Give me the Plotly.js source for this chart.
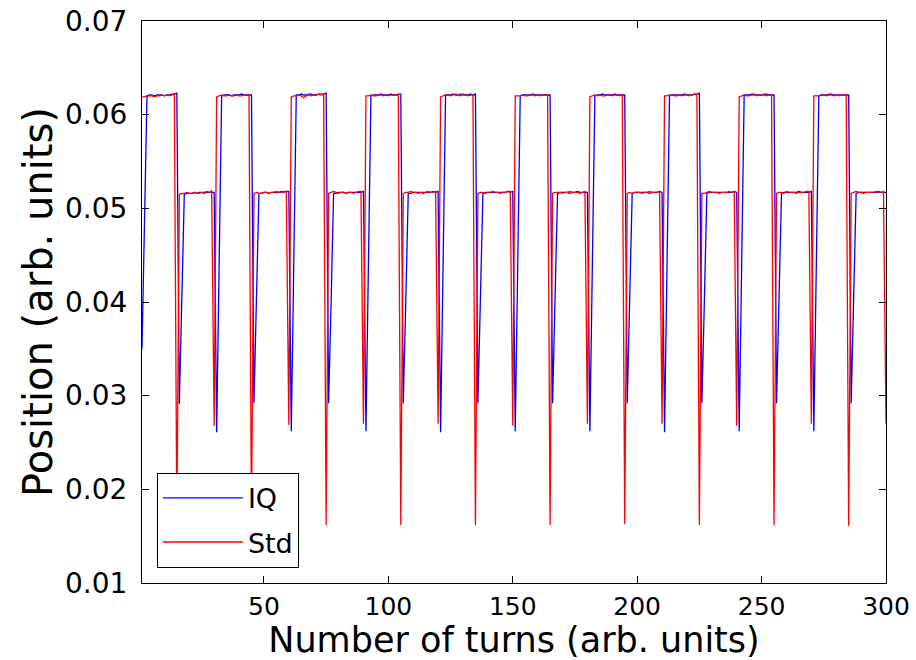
<!DOCTYPE html>
<html>
<head>
<meta charset="utf-8">
<script src="https://cdn.plot.ly/plotly-3.0.1.min.js"></script>
<style>html,body{margin:0;padding:0;background:#fff;}#chart{width:916px;height:660px;}</style>
</head>
<body>
<div id="chart"></div>
<script>
// Number of turns (1..300)
const turns = Array.from({length: 300}, (_, i) => i + 1);

// IQ series (blue), one line per 30-turn cycle
const iqValues = [
  .0350,.0490, .0620,.0621,.0621,.0620,.0621,.0621,.0621,.0620,.0621,.0621,.0622,.0622,.0623, .0291,.0400, .0515,.0516,.0516,.0516,.0517,.0516,.0517,.0517,.0516,.0517,.0517,.0517,.0517,
  .0261,.0440, .0620,.0621,.0621,.0621,.0620,.0621,.0621,.0621,.0622,.0621,.0621,.0621,.0621, .0292,.0400, .0516,.0516,.0517,.0517,.0516,.0517,.0517,.0517,.0517,.0518,.0517,.0518,.0518,
  .0262,.0440, .0621,.0621,.0622,.0621,.0621,.0622,.0622,.0621,.0621,.0622,.0622,.0622,.0623, .0292,.0400, .0516,.0516,.0517,.0517,.0517,.0516,.0517,.0517,.0517,.0517,.0517,.0517,.0518,
  .0262,.0440, .0620,.0621,.0621,.0621,.0622,.0621,.0621,.0621,.0622,.0621,.0621,.0622,.0622, .0292,.0400, .0516,.0516,.0517,.0517,.0517,.0517,.0516,.0517,.0517,.0517,.0518,.0517,.0518,
  .0261,.0440, .0621,.0621,.0621,.0622,.0621,.0621,.0622,.0622,.0621,.0621,.0622,.0621,.0622, .0292,.0400, .0516,.0517,.0517,.0517,.0517,.0517,.0517,.0517,.0517,.0517,.0518,.0517,.0518,
  .0262,.0440, .0620,.0621,.0621,.0621,.0621,.0622,.0621,.0621,.0621,.0621,.0621,.0621,.0621, .0292,.0400, .0516,.0517,.0517,.0517,.0517,.0516,.0517,.0517,.0518,.0517,.0517,.0517,.0517,
  .0262,.0440, .0620,.0621,.0621,.0622,.0621,.0621,.0621,.0621,.0622,.0621,.0621,.0621,.0621, .0292,.0400, .0516,.0517,.0517,.0517,.0517,.0517,.0517,.0516,.0517,.0517,.0517,.0518,.0517,
  .0261,.0440, .0620,.0621,.0621,.0621,.0621,.0621,.0622,.0621,.0621,.0621,.0622,.0622,.0623, .0292,.0400, .0516,.0517,.0517,.0517,.0517,.0517,.0517,.0517,.0517,.0517,.0517,.0518,.0517,
  .0262,.0440, .0621,.0621,.0621,.0622,.0622,.0621,.0621,.0621,.0622,.0622,.0621,.0621,.0621, .0292,.0400, .0516,.0517,.0517,.0517,.0517,.0517,.0517,.0518,.0517,.0517,.0517,.0517,.0518,
  .0262,.0440, .0620,.0621,.0621,.0621,.0622,.0622,.0621,.0621,.0621,.0621,.0621,.0621,.0621, .0292,.0400, .0516,.0517,.0517,.0517,.0517,.0517,.0517,.0517,.0517,.0518,.0517,.0517,.0517
];

// Std series (red), one line per 30-turn cycle
const stdValues = [
  .0619,.0619,.0620,.0620,.0620,.0619,.0620,.0620,.0621,.0620,.0621,.0620,.0621,.0622, .0165, .0515,.0516,.0516,.0517,.0516,.0516,.0517,.0516,.0516,.0517,.0517,.0518,.0517,.0519, .0268,
  .0619,.0620,.0621,.0620,.0620,.0621,.0620,.0620,.0621,.0620,.0620,.0621,.0621,.0621, .0165, .0516,.0517,.0516,.0516,.0517,.0517,.0516,.0517,.0517,.0518,.0517,.0517,.0518,.0518, .0269,
  .0619,.0620,.0620,.0621,.0620,.0618,.0620,.0621,.0620,.0621,.0621,.0622,.0621,.0622, .0162, .0516,.0517,.0518,.0517,.0516,.0517,.0517,.0516,.0517,.0517,.0516,.0517,.0518,.0518, .0270,
  .0620,.0620,.0621,.0620,.0620,.0621,.0621,.0620,.0621,.0620,.0621,.0621,.0621,.0621, .0162, .0516,.0517,.0517,.0518,.0517,.0517,.0516,.0517,.0517,.0517,.0518,.0517,.0517,.0518, .0270,
  .0619,.0620,.0621,.0621,.0620,.0621,.0622,.0621,.0620,.0621,.0621,.0620,.0621,.0621, .0162, .0516,.0517,.0517,.0516,.0517,.0517,.0518,.0517,.0517,.0516,.0517,.0517,.0518,.0518, .0268,
  .0620,.0620,.0620,.0621,.0620,.0620,.0621,.0621,.0620,.0621,.0620,.0621,.0621,.0621, .0162, .0516,.0517,.0517,.0517,.0516,.0517,.0517,.0518,.0517,.0517,.0517,.0516,.0517,.0518, .0270,
  .0619,.0620,.0621,.0620,.0621,.0620,.0620,.0621,.0621,.0620,.0621,.0621,.0620,.0621, .0163, .0516,.0517,.0516,.0517,.0517,.0517,.0516,.0517,.0517,.0518,.0517,.0517,.0517,.0518, .0270,
  .0620,.0620,.0621,.0621,.0620,.0620,.0621,.0620,.0621,.0621,.0620,.0621,.0622,.0621, .0162, .0516,.0516,.0517,.0518,.0517,.0517,.0517,.0516,.0517,.0517,.0517,.0518,.0517,.0518, .0268,
  .0619,.0620,.0621,.0620,.0620,.0621,.0621,.0620,.0621,.0621,.0621,.0620,.0621,.0621, .0162, .0516,.0517,.0517,.0516,.0518,.0517,.0517,.0517,.0516,.0517,.0517,.0517,.0518,.0518, .0270,
  .0620,.0620,.0620,.0621,.0621,.0620,.0621,.0621,.0620,.0621,.0620,.0621,.0621,.0621, .0161, .0516,.0517,.0518,.0517,.0517,.0516,.0517,.0517,.0517,.0517,.0518,.0517,.0517,.0518, .0270
];

const xTicks = [50, 100, 150, 200, 250, 300];
const yTicks = [0.01, 0.02, 0.03, 0.04, 0.05, 0.06, 0.07];
const xTitle = 'Number of turns (arb. units)';
const yTitle = 'Position (arb. units)';

const font = 'DejaVu Sans, sans-serif';

const traces = [
  {x: turns, y: iqValues, type: 'scatter', mode: 'lines', name: 'IQ', legendgroup: 'a',
   line: {color: '#0000ff', width: 1.3}},
  {x: turns, y: stdValues, type: 'scatter', mode: 'lines', name: 'Std', legendgroup: 'b',
   line: {color: '#ff0000', width: 1.3}}
];

const axisCommon = {
  showline: true, linecolor: '#000', linewidth: 1, mirror: 'ticks',
  ticks: 'inside', ticklen: 7, tickcolor: '#000', tickwidth: 1,
  showgrid: false, zeroline: false
};

const layout = {
  width: 916, height: 660,
  margin: {l: 142, r: 30, t: 21, b: 77},
  paper_bgcolor: '#fff', plot_bgcolor: '#fff',
  font: {family: font, color: '#000'},
  showlegend: true,
  legend: {
    x: 0.02, y: 0.027, xanchor: 'left', yanchor: 'bottom',
    bgcolor: '#fff', bordercolor: '#000', borderwidth: 1,
    font: {family: font, size: 27, color: '#000'},
    tracegroupgap: 6, itemwidth: 80
  },
  xaxis: Object.assign({}, axisCommon, {
    range: [1, 300], tickvals: xTicks,
    tickfont: {family: font, size: 25, color: '#000'},
    ticklabelstandoff: 1,
    title: {text: xTitle, font: {family: font, size: 35, color: '#000'}, standoff: 9}
  }),
  yaxis: Object.assign({}, axisCommon, {
    range: [0.01, 0.07], tickvals: yTicks, tickformat: '.2f',
    tickfont: {family: font, size: 28, color: '#000'},
    ticklabelstandoff: 8,
    title: {text: yTitle, font: {family: font, size: 40, color: '#000'}, standoff: 0}
  })
};

Plotly.newPlot('chart', traces, layout, {displayModeBar: false, staticPlot: true});
</script>
</body>
</html>
